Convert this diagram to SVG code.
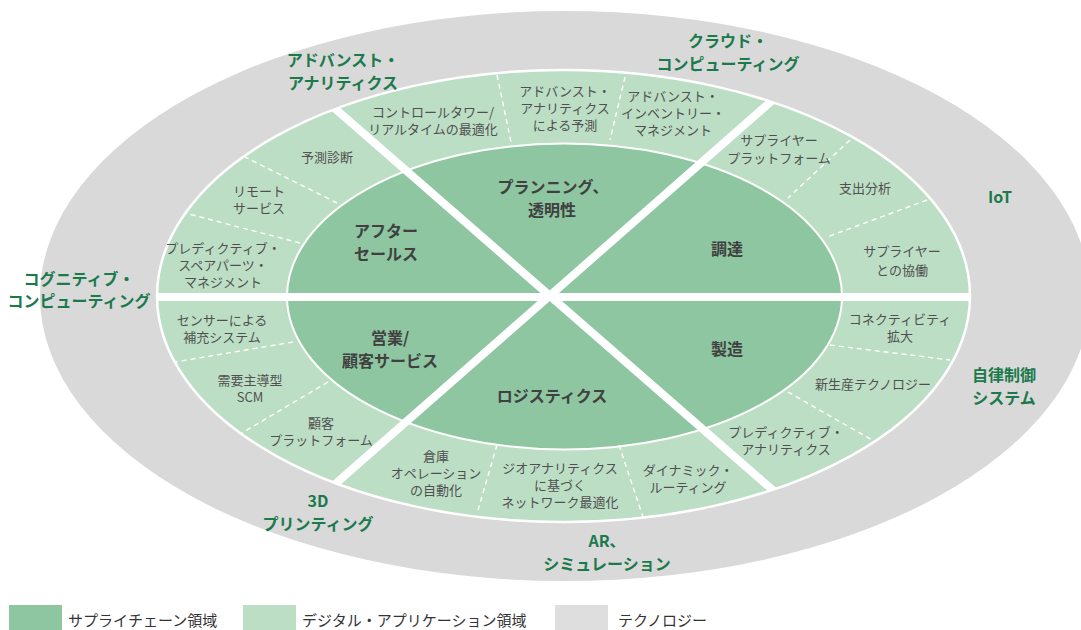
<svg xmlns="http://www.w3.org/2000/svg" width="1081" height="630" viewBox="0 0 1081 630">
<style>
  .mid{font-family:"Noto Sans CJK JP","Noto Sans",sans-serif;font-size:13px;fill:#505050;text-anchor:middle}
  .core{font-family:"Noto Sans CJK JP","Noto Sans",sans-serif;font-size:16px;font-weight:bold;fill:#404040;text-anchor:middle}
  .tech{font-family:"Noto Sans CJK JP","Noto Sans",sans-serif;font-size:16px;font-weight:bold;fill:#1B7A4C;text-anchor:middle}
  .leg{font-family:"Noto Sans CJK JP","Noto Sans",sans-serif;font-size:15px;fill:#333333}
  .dash{stroke:#ffffff;stroke-width:1.4;stroke-dasharray:5 4;fill:none}
  .sep{stroke:#ffffff;stroke-width:8;fill:none}
</style>
<defs>
  <clipPath id="ringClip"><ellipse cx="563.5" cy="296" rx="406.5" ry="226"/></clipPath>
</defs>
<rect width="1081" height="630" fill="#ffffff"/>
<g id="technology-ring"><ellipse cx="565" cy="296" rx="525" ry="285" fill="#D9D9D9"/></g>
<g id="application-ring"><ellipse cx="563.5" cy="296" rx="406.5" ry="226" fill="#BCDEC5" stroke="#ffffff" stroke-width="2.5"/></g>
<g id="supply-chain-core"><ellipse cx="564.5" cy="296.5" rx="277.5" ry="153" fill="#8DC6A0" stroke="#ffffff" stroke-width="2"/></g>
<g id="connectors">
  <line class="dash" x1="497" y1="75" x2="511" y2="142"/>
  <line class="dash" x1="625" y1="77" x2="610" y2="140"/>
  <line class="dash" x1="850" y1="140" x2="788" y2="198"/>
  <line class="dash" x1="927" y1="200" x2="827" y2="237"/>
  <line class="dash" x1="830" y1="345" x2="950" y2="360"/>
  <line class="dash" x1="788" y1="392" x2="872" y2="440"/>
  <line class="dash" x1="619" y1="445" x2="643" y2="517"/>
  <line class="dash" x1="497" y1="445" x2="478" y2="510"/>
  <line class="dash" x1="293" y1="342" x2="175" y2="362"/>
  <line class="dash" x1="328" y1="382" x2="242" y2="433"/>
  <line class="dash" x1="337" y1="203" x2="245" y2="157"/>
  <line class="dash" x1="300" y1="243" x2="185" y2="213"/>
  <g clip-path="url(#ringClip)">
    <line class="sep" x1="316" y1="92" x2="791" y2="506"/>
    <line class="sep" x1="791" y1="84" x2="317" y2="500"/>
    <line class="sep" x1="140" y1="297" x2="990" y2="297" stroke-width="7"/>
  </g>
</g>
<g id="planning"><text class="core" x="553" y="193">プランニング、</text><text class="core" x="552" y="216">透明性</text></g>
<g id="procurement"><text class="core" x="727" y="255">調達</text></g>
<g id="manufacturing"><text class="core" x="727" y="355">製造</text></g>
<g id="logistics"><text class="core" x="552" y="402">ロジスティクス</text></g>
<g id="sales"><text class="core" x="390" y="344">営業/</text><text class="core" x="390" y="367">顧客サービス</text></g>
<g id="aftersales"><text class="core" x="386" y="237">アフター</text><text class="core" x="386" y="260">セールス</text></g>
<g id="app-control-tower"><text class="mid" x="433" y="117">コントロールタワー/</text><text class="mid" x="433" y="134">リアルタイムの最適化</text></g>
<g id="app-advanced-forecast"><text class="mid" x="565" y="96">アドバンスト・</text><text class="mid" x="565" y="113">アナリティクス</text><text class="mid" x="565" y="130">による予測</text></g>
<g id="app-inventory"><text class="mid" x="673" y="101">アドバンスト・</text><text class="mid" x="673" y="118">インベントリー・</text><text class="mid" x="673" y="135">マネジメント</text></g>
<g id="app-supplier-platform"><text class="mid" x="779" y="145">サプライヤー</text><text class="mid" x="779" y="163">プラットフォーム</text></g>
<g id="app-spend"><text class="mid" x="865" y="193">支出分析</text></g>
<g id="app-supplier-collab"><text class="mid" x="902" y="256">サプライヤー</text><text class="mid" x="902" y="275">との協働</text></g>
<g id="app-connectivity"><text class="mid" x="900" y="324">コネクティビティ</text><text class="mid" x="900" y="341">拡大</text></g>
<g id="app-new-production"><text class="mid" x="873" y="389">新生産テクノロジー</text></g>
<g id="app-predictive-analytics"><text class="mid" x="786" y="437">プレディクティブ・</text><text class="mid" x="786" y="454">アナリティクス</text></g>
<g id="app-dynamic-routing"><text class="mid" x="688" y="475">ダイナミック・</text><text class="mid" x="688" y="492">ルーティング</text></g>
<g id="app-geo"><text class="mid" x="560" y="473">ジオアナリティクス</text><text class="mid" x="560" y="490">に基づく</text><text class="mid" x="560" y="507">ネットワーク最適化</text></g>
<g id="app-warehouse"><text class="mid" x="436" y="461">倉庫</text><text class="mid" x="436" y="478">オペレーション</text><text class="mid" x="436" y="495">の自動化</text></g>
<g id="app-customer-platform"><text class="mid" x="321" y="428">顧客</text><text class="mid" x="321" y="445">プラットフォーム</text></g>
<g id="app-demand-scm"><text class="mid" x="250" y="385">需要主導型</text><text class="mid" x="250" y="402">SCM</text></g>
<g id="app-sensor"><text class="mid" x="222" y="325">センサーによる</text><text class="mid" x="222" y="342">補充システム</text></g>
<g id="app-spare-parts"><text class="mid" x="223" y="253">プレディクティブ・</text><text class="mid" x="223" y="270">スペアパーツ・</text><text class="mid" x="223" y="287">マネジメント</text></g>
<g id="app-remote"><text class="mid" x="259" y="196">リモート</text><text class="mid" x="259" y="213">サービス</text></g>
<g id="app-diagnosis"><text class="mid" x="327" y="162">予測診断</text></g>
<g id="tech-advanced-analytics"><text class="tech" x="343" y="66">アドバンスト・</text><text class="tech" x="343" y="89">アナリティクス</text></g>
<g id="tech-cloud"><text class="tech" x="728" y="47">クラウド・</text><text class="tech" x="728" y="70">コンピューティング</text></g>
<g id="tech-iot"><text class="tech" x="1000" y="203">IoT</text></g>
<g id="tech-cognitive"><text class="tech" x="79" y="285">コグニティブ・</text><text class="tech" x="79" y="307">コンピューティング</text></g>
<g id="tech-autonomous"><text class="tech" x="1004" y="381">自律制御</text><text class="tech" x="1004" y="404">システム</text></g>
<g id="tech-3d"><text class="tech" x="318" y="507">3D</text><text class="tech" x="318" y="530">プリンティング</text></g>
<g id="tech-ar"><text class="tech" x="607" y="547">AR、</text><text class="tech" x="607" y="570">シミュレーション</text></g>
<g id="legend">
  <rect x="9" y="605" width="53" height="25" fill="#8DC6A0"/>
  <text class="leg" x="68" y="626">サプライチェーン領域</text>
  <rect x="243" y="605" width="53" height="25" fill="#BCDEC5"/>
  <text class="leg" x="302" y="626">デジタル・アプリケーション領域</text>
  <rect x="555" y="605" width="53" height="25" fill="#DEDEDE"/>
  <text class="leg" x="618" y="626">テクノロジー</text>
</g>
</svg>
